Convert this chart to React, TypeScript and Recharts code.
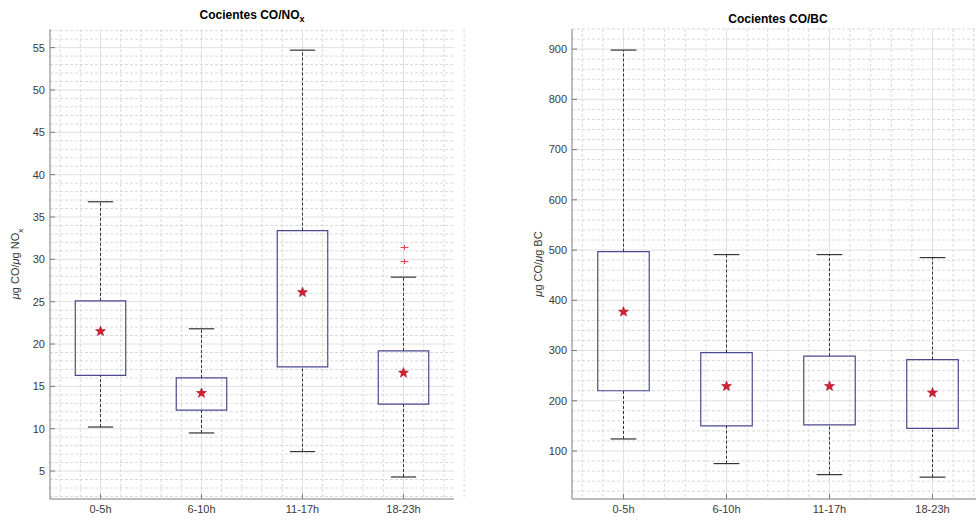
import React from 'react';
import {
  ComposedChart, XAxis, YAxis, CartesianGrid, ReferenceArea, ReferenceLine, Scatter,
} from 'recharts';

// categories (positions 1..4 on a numeric axis)
const categories = ['0-5h', '6-10h', '11-17h', '18-23h'];
const catPos = [1, 2, 3, 4];

// CO/NOx box plot stats
const noxLow = [10.2, 9.5, 7.3, 4.3];
const noxQ1 = [16.3, 12.2, 17.3, 12.9];
const noxQ3 = [25.1, 16.0, 33.4, 19.2];
const noxHigh = [36.8, 21.8, 54.7, 27.9];
const noxMean = [21.5, 14.2, 26.1, 16.6];
const noxOutliers = [{ x: 4, y: 29.8 }, { x: 4, y: 31.4 }];
const noxTicks = [5, 10, 15, 20, 25, 30, 35, 40, 45, 50, 55];

// CO/BC box plot stats
const bcLow = [124, 75, 53, 48];
const bcQ1 = [220, 150, 152, 145];
const bcQ3 = [497, 296, 289, 282];
const bcHigh = [898, 491, 491, 485];
const bcMean = [377, 229, 229, 216];
const bcOutliers: { x: number; y: number }[] = [];
const bcTicks = [100, 200, 300, 400, 500, 600, 700, 800, 900];

const FONT = '"Liberation Sans", Arial, sans-serif';
const BOX_COLOR = '#4a4a8e';
const AXIS_COLOR = '#7a7a7a';

const xMinor: number[] = [];
for (let i = 1; i <= 22; i++) {
  const v = Math.round((0.4 + i * 0.2) * 10) / 10;
  if (v % 1 !== 0) xMinor.push(v);
}

const StarShape = (props: any) => {
  const { cx, cy } = props;
  if (cx == null || cy == null) return null;
  const pts: string[] = [];
  for (let k = 0; k < 10; k++) {
    const r = k % 2 === 0 ? 5.2 : 2.2;
    const a = -Math.PI / 2 + (k * Math.PI) / 5;
    pts.push(`${cx + r * Math.cos(a)},${cy + r * Math.sin(a)}`);
  }
  return <polygon points={pts.join(' ')} fill="#d81e2c" stroke="#9e1230" strokeWidth={0.6} />;
};

const PlusShape = (props: any) => {
  const { cx, cy } = props;
  if (cx == null || cy == null) return null;
  const x = Math.round(cx) + 0.5;
  const y = Math.round(cy) + 0.5;
  return (
    <path d={`M${x - 4},${y}H${x + 4}M${x},${y - 2.5}V${y + 2.5}`} stroke="#e04848" strokeWidth={1} fill="none" />
  );
};

type PanelProps = {
  left: number;
  width: number;
  yAxisWidth: number;
  rightMargin: number;
  domain: [number, number];
  ticks: number[];
  minorStep: number;
  low: number[];
  q1: number[];
  q3: number[];
  high: number[];
  mean: number[];
  outliers: { x: number; y: number }[];
};

const BoxPanel: React.FC<PanelProps> = (p) => {
  const yMinor: number[] = [];
  for (let v = Math.ceil(p.domain[0] / p.minorStep) * p.minorStep; v <= p.domain[1]; v += p.minorStep) {
    if (!p.ticks.includes(v)) yMinor.push(Math.round(v * 100) / 100);
  }
  const meanData = catPos.map((x, i) => ({ x, y: p.mean[i] }));
  const tickStyle = { fontSize: 11, fill: '#3a3a3a', fontFamily: FONT };

  return (
    <div style={{ position: 'absolute', left: p.left, top: 0 }}>
      <ComposedChart width={p.width} height={521} margin={{ top: 29, right: p.rightMargin, left: 0, bottom: 0 }}>
        <CartesianGrid
          verticalValues={xMinor}
          horizontalValues={yMinor}
          stroke="#d9d9d9"
          strokeDasharray="3 2"
        />
        <CartesianGrid
          verticalValues={catPos}
          horizontalValues={p.ticks}
          stroke="#e0e0e0"
        />
        <XAxis
          type="number"
          dataKey="x"
          domain={[0.5, 4.5]}
          ticks={catPos}
          allowDataOverflow
          tickFormatter={(v: number) => categories[v - 1] ?? ''}
          tick={tickStyle}
          tickSize={-5}
          tickMargin={11}
          height={22}
          stroke={AXIS_COLOR}
          interval={0}
        />
        <XAxis
          xAxisId="t"
          orientation="top"
          type="number"
          domain={[0.5, 4.5]}
          ticks={catPos}
          allowDataOverflow
          tickFormatter={() => ''}
          tickSize={-5}
          height={0}
          stroke="#5a5a5a"
          interval={0}
        />
        <YAxis
          type="number"
          dataKey="y"
          domain={p.domain}
          ticks={p.ticks}
          allowDataOverflow
          tick={tickStyle}
          tickSize={-5}
          tickMargin={10}
          width={p.yAxisWidth}
          stroke={AXIS_COLOR}
          interval={0}
        />
        <YAxis
          yAxisId="r"
          orientation="right"
          type="number"
          domain={p.domain}
          ticks={p.ticks}
          allowDataOverflow
          tickFormatter={() => ''}
          tickSize={-5}
          width={0}
          stroke={AXIS_COLOR}
          interval={0}
        />
        {catPos.map((x, i) => (
          <ReferenceLine
            key={`wu${i}`}
            segment={[{ x, y: p.q3[i] }, { x, y: p.high[i] }]}
            stroke="#333"
            strokeDasharray="3 2"
          />
        ))}
        {catPos.map((x, i) => (
          <ReferenceLine
            key={`wl${i}`}
            segment={[{ x, y: p.low[i] }, { x, y: p.q1[i] }]}
            stroke="#333"
            strokeDasharray="3 2"
          />
        ))}
        {catPos.map((x, i) => (
          <ReferenceLine
            key={`cu${i}`}
            segment={[{ x: x - 0.125, y: p.high[i] }, { x: x + 0.125, y: p.high[i] }]}
            stroke="#333"
            strokeWidth={1.2}
          />
        ))}
        {catPos.map((x, i) => (
          <ReferenceLine
            key={`cl${i}`}
            segment={[{ x: x - 0.125, y: p.low[i] }, { x: x + 0.125, y: p.low[i] }]}
            stroke="#333"
            strokeWidth={1.2}
          />
        ))}
        {catPos.map((x, i) => (
          <ReferenceArea
            key={`b${i}`}
            x1={x - 0.25}
            x2={x + 0.25}
            y1={p.q1[i]}
            y2={p.q3[i]}
            fill="none"
            fillOpacity={0}
            stroke={BOX_COLOR}
            strokeWidth={1.2}
          />
        ))}
        <Scatter data={p.outliers} dataKey="y" shape={<PlusShape />} isAnimationActive={false} />
        <Scatter data={meanData} dataKey="y" shape={<StarShape />} isAnimationActive={false} />
      </ComposedChart>
    </div>
  );
};

const titleStyle: React.CSSProperties = {
  position: 'absolute',
  fontFamily: FONT,
  fontWeight: 'bold',
  fontSize: 12,
  color: '#000',
  whiteSpace: 'nowrap',
  transform: 'translateX(-50%)',
};

const ylabelStyle: React.CSSProperties = {
  position: 'absolute',
  fontFamily: FONT,
  fontSize: 11,
  color: '#333',
  whiteSpace: 'nowrap',
  transform: 'translate(-50%, -50%) rotate(-90deg)',
};

export default function App() {
  return (
    <div style={{ position: 'fixed', left: 0, top: 0, width: 976, height: 521, overflow: 'hidden', background: '#fff' }}>
      <BoxPanel
        left={0}
        width={470}
        yAxisWidth={50}
        rightMargin={16}
        domain={[1.7, 57.2]}
        ticks={noxTicks}
        minorStep={1}
        low={noxLow}
        q1={noxQ1}
        q3={noxQ3}
        high={noxHigh}
        mean={noxMean}
        outliers={noxOutliers}
      />
      <BoxPanel
        left={510}
        width={480}
        yAxisWidth={62}
        rightMargin={6}
        domain={[4.5, 940]}
        ticks={bcTicks}
        minorStep={20}
        low={bcLow}
        q1={bcQ1}
        q3={bcQ3}
        high={bcHigh}
        mean={bcMean}
        outliers={bcOutliers}
      />
      <div style={{ ...titleStyle, left: 252, top: 8 }}>
        Cocientes CO/NO<sub style={{ fontSize: 9 }}>x</sub>
      </div>
      <div style={{ ...titleStyle, left: 778, top: 12 }}>Cocientes CO/BC</div>
      <div style={{ ...ylabelStyle, left: 17, top: 264 }}>
        <i>μ</i>g CO/<i>μ</i>g NO<sub style={{ fontSize: 8 }}>x</sub>
      </div>
      <div style={{ ...ylabelStyle, left: 538, top: 264 }}>
        <i>μ</i>g CO/<i>μ</i>g BC
      </div>
    </div>
  );
}
